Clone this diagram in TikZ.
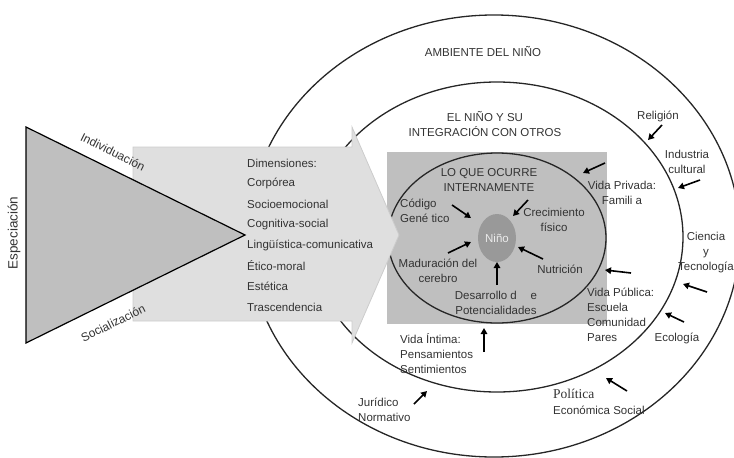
\documentclass[tikz,border=0pt]{standalone}
\usepackage{fontspec}
\setmainfont{Liberation Sans}
\newfontfamily\polserif{Liberation Serif}
\usetikzlibrary{arrows.meta,shapes.geometric}

\begin{document}
\begin{tikzpicture}[x=1pt, y=-1pt,
      lbl/.style={font=\fontsize{11.5}{15}\selectfont, text=black!80, inner sep=0pt},
      ring/.style={draw=black!85, line width=1.3pt},
      pointer/.style={->, line width=1.6pt},
      >={Triangle[length=6pt,width=6.5pt]}]
    \useasboundingbox (0,0) rectangle (734,458);
    \clip (0,0) rectangle (734,458);
    % rings around the child
    \draw[ring] (494,236) ellipse [x radius=246pt, y radius=221pt];
    \draw[ring] (497,237) ellipse [x radius=186pt, y radius=155pt];
    \node[fill=gray!50, minimum width=220pt, minimum height=172pt, inner sep=0pt] (core) at (497,238) {};
    \draw[ring] (core.center) ellipse [x radius=109pt, y radius=85pt];
    \node[ellipse, fill=gray!80, minimum width=38pt, minimum height=48pt, inner sep=0pt,
      font=\fontsize{11.5}{14}\selectfont, text=white!92!black] (nino) at (core.center) {Niño};
    % arrow and triangle
    \draw[draw=gray!40, fill=gray!25, line width=0.8pt] (133,147) -- (352,147) -- (352,127)
      -- (399,235) -- (352,343) -- (352,321) -- (133,321) -- cycle;
    \coordinate (ta) at (26,127);
    \coordinate (tb) at (245,235);
    \coordinate (tc) at (26,343);
    \draw[fill=gray!50, line width=1.2pt] (ta) -- (tb) -- (tc) -- cycle;
    \node[lbl, font=\fontsize{12}{14}\selectfont, rotate=-26.3] (indiv) at (113,152) {Individuación};
    \node[lbl, font=\fontsize{12}{14}\selectfont, rotate=26.3] (social) at (113,323) {Socialización};
    \node[lbl, font=\fontsize{13.5}{15}\selectfont, rotate=90] (espec) at (14,233) {Especiación};
    \foreach \i/\t in {0/Dimensiones:,1/Corpórea,2/Socioemocional,3/Cognitiva-social,
        4/Lingüística-comunicativa,5/Ético-moral,6/Estética,7/Trascendencia}
      \node[lbl, anchor=west] (dim\i) at (247,163+20.6*\i) {\t};
    % headings
    \node[lbl] (amb) at (483,52) {AMBIENTE DEL NIÑO};
    \node[lbl, align=center] (integ) at (485,124) {EL NIÑO Y SU\\INTEGRACIÓN CON OTROS};
    \node[lbl, align=center] (intern) at (489,180) {LO QUE OCURRE\\INTERNAMENTE};
    % inside
    \node[lbl, align=left, anchor=west] (codigo) at (400,211) {Código\\Gené tico};
    \node[lbl, align=center] (crec) at (554,220) {Crecimiento\\físico};
    \node[lbl, align=center] (madur) at (438,271) {Maduración del\\cerebro};
    \node[lbl] (nutri) at (560,269) {Nutrición};
    \node[lbl, align=center] (desar) at (496,303) {Desarrollo d\hspace{1.2em}e\\Potencialidades};
    % others
    \node[lbl, align=center] (privada) at (622,193) {Vida Privada:\\Famili a};
    \node[lbl, align=left, anchor=west] (publica) at (587,315) {Vida Pública:\\Escuela\\Comunidad\\Pares};
    \node[lbl, align=left, anchor=west] (intima) at (400,354) {Vida Íntima:\\Pensamientos\\Sentimientos};
    % environment
    \node[lbl] (relig) at (658,116) {Religión};
    \node[lbl, align=center] (indus) at (687,162) {Industria\\cultural};
    \node[lbl, align=center] (cienc) at (706,253) {Ciencia\\y\\Tecnología};
    \node[lbl] (ecol) at (677,338) {Ecología};
    \node[lbl, font=\polserif\fontsize{13.5}{15}\selectfont, anchor=west] (polit) at (553,394) {Política};
    \node[lbl, anchor=west] (econ) at (553,410) {Económica Social};
    \node[lbl, align=left, anchor=west] (jurid) at (358,410) {Jurídico\\Normativo};
    % influences
    \foreach \n/\a/\b/\c/\d in {cod/452/205/471/218, cre/528/200/513/216, mad/448/253/471/242,
        nut/543/259/518/247, des/497/285/497/262, int/484/352/484/328, pri/605/163/583/173,
        pub/631/273/605/270, rel/662/125/648/140, ind/700/180/678/188, cie/707/292/683/284,
        eco/684/322/665/313, pol/627/391/606/378, jur/414/404/427/391} {
      \coordinate (\n-s) at (\a,\b);
      \coordinate (\n-e) at (\c,\d);
      \draw[pointer] (\n-s) -- (\n-e);
    }
  \end{tikzpicture}
\end{document}
